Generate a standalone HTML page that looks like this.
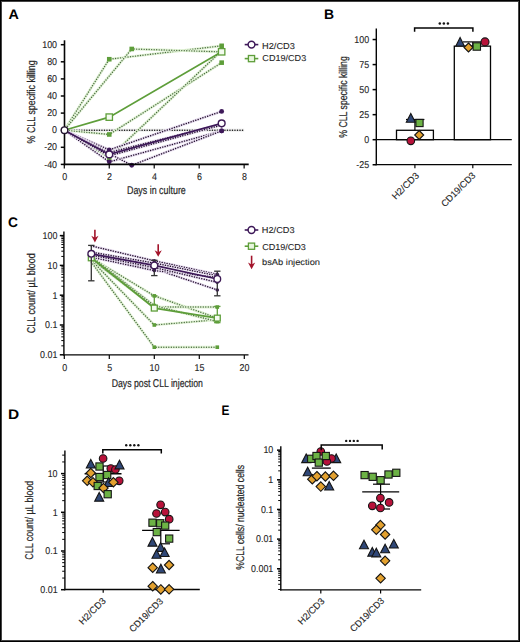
<!DOCTYPE html>
<html><head><meta charset="utf-8"><style>
html,body{margin:0;padding:0;background:#fff;}
body{width:520px;height:642px;overflow:hidden;}
.wrap{position:relative;width:520px;height:642px;box-sizing:border-box;background:#fff;}
.wrap:after{content:"";position:absolute;left:0;top:0;right:0;bottom:0;border:1px solid #000;box-shadow:inset 0 0 0 1px #444;pointer-events:none;}
svg{position:absolute;left:0;top:0;font-family:"Liberation Sans", sans-serif;text-rendering:geometricPrecision;}
</style></head><body><div class="wrap">
<svg width="520" height="642" viewBox="0 0 520 642">
<text transform="translate(8.8,18.6) scale(1.0383,1)" x="-0.35" y="0" font-size="13.8" fill="#000" font-weight="bold" >A</text>
<text transform="translate(324.9,18.6) scale(1.0097,1)" x="-0.9" y="0" font-size="13.8" fill="#000" font-weight="bold" >B</text>
<text transform="translate(8.6,226.5) scale(0.9957,1)" x="-0.55" y="0" font-size="13.8" fill="#000" font-weight="bold" >C</text>
<text transform="translate(8.9,419.2) scale(1.1194,1)" x="-0.9" y="0" font-size="13.8" fill="#000" font-weight="bold" >D</text>
<text transform="translate(222.3,414.6) scale(0.8593,1)" x="-0.9" y="0" font-size="13.8" fill="#000" font-weight="bold" >E</text>
<polyline points="64.3,130.2 244.14,130.2" fill="none" stroke="#e6e6e6" stroke-width="2.7" stroke-linejoin="round"/>
<polyline points="64.3,130.2 244.14,130.2" fill="none" stroke="#111111" stroke-width="1.5" stroke-dasharray="0.01,2.5" stroke-linecap="round" stroke-linejoin="round"/>
<polyline points="64.3,130.2 109.26,59.23 221.66,45.81" fill="none" stroke="#e0f2d4" stroke-width="2.7" stroke-linejoin="round"/>
<polyline points="64.3,130.2 109.26,59.23 221.66,45.81" fill="none" stroke="#4a6a40" stroke-width="1.4" stroke-dasharray="0.01,2.5" stroke-linecap="round" stroke-linejoin="round"/>
<polyline points="64.3,130.2 131.74,48.97 221.66,51.88" fill="none" stroke="#e0f2d4" stroke-width="2.7" stroke-linejoin="round"/>
<polyline points="64.3,130.2 131.74,48.97 221.66,51.88" fill="none" stroke="#4a6a40" stroke-width="1.4" stroke-dasharray="0.01,2.5" stroke-linecap="round" stroke-linejoin="round"/>
<polyline points="64.3,130.2 109.26,134.47 221.66,62.65" fill="none" stroke="#e0f2d4" stroke-width="2.7" stroke-linejoin="round"/>
<polyline points="64.3,130.2 109.26,134.47 221.66,62.65" fill="none" stroke="#4a6a40" stroke-width="1.4" stroke-dasharray="0.01,2.5" stroke-linecap="round" stroke-linejoin="round"/>
<polyline points="64.3,130.2 109.26,157.56 221.66,50.68" fill="none" stroke="#e0f2d4" stroke-width="2.7" stroke-linejoin="round"/>
<polyline points="64.3,130.2 109.26,157.56 221.66,50.68" fill="none" stroke="#4a6a40" stroke-width="1.4" stroke-dasharray="0.01,2.5" stroke-linecap="round" stroke-linejoin="round"/>
<polyline points="64.3,130.2 109.26,149.86 221.66,111.39" fill="none" stroke="#e8def0" stroke-width="2.7" stroke-linejoin="round"/>
<polyline points="64.3,130.2 109.26,149.86 221.66,111.39" fill="none" stroke="#24122e" stroke-width="1.5" stroke-dasharray="0.01,2.5" stroke-linecap="round" stroke-linejoin="round"/>
<polyline points="64.3,130.2 109.26,152.43 221.66,124.21" fill="none" stroke="#e8def0" stroke-width="2.7" stroke-linejoin="round"/>
<polyline points="64.3,130.2 109.26,152.43 221.66,124.21" fill="none" stroke="#24122e" stroke-width="1.5" stroke-dasharray="0.01,2.5" stroke-linecap="round" stroke-linejoin="round"/>
<polyline points="64.3,130.2 109.26,161.83 221.66,130.88" fill="none" stroke="#e8def0" stroke-width="2.7" stroke-linejoin="round"/>
<polyline points="64.3,130.2 109.26,161.83 221.66,130.88" fill="none" stroke="#24122e" stroke-width="1.5" stroke-dasharray="0.01,2.5" stroke-linecap="round" stroke-linejoin="round"/>
<polyline points="64.3,130.2 131.74,165.25 221.66,130.88" fill="none" stroke="#e8def0" stroke-width="2.7" stroke-linejoin="round"/>
<polyline points="64.3,130.2 131.74,165.25 221.66,130.88" fill="none" stroke="#24122e" stroke-width="1.5" stroke-dasharray="0.01,2.5" stroke-linecap="round" stroke-linejoin="round"/>
<polyline points="64.3,130.2 109.26,155.85 221.66,125.07" fill="none" stroke="#e8def0" stroke-width="2.7" stroke-linejoin="round"/>
<polyline points="64.3,130.2 109.26,155.85 221.66,125.07" fill="none" stroke="#24122e" stroke-width="1.5" stroke-dasharray="0.01,2.5" stroke-linecap="round" stroke-linejoin="round"/>
<rect x="106.96" y="56.93" width="4.6" height="4.6" fill="#5e9e3a"/>
<rect x="219.36" y="43.51" width="4.6" height="4.6" fill="#5e9e3a"/>
<rect x="129.44" y="46.67" width="4.6" height="4.6" fill="#5e9e3a"/>
<rect x="219.36" y="49.58" width="4.6" height="4.6" fill="#5e9e3a"/>
<rect x="106.96" y="132.17" width="4.6" height="4.6" fill="#5e9e3a"/>
<rect x="219.36" y="60.35" width="4.6" height="4.6" fill="#5e9e3a"/>
<rect x="106.96" y="155.26" width="4.6" height="4.6" fill="#5e9e3a"/>
<rect x="219.36" y="48.38" width="4.6" height="4.6" fill="#5e9e3a"/>
<circle cx="109.26" cy="149.86" r="2.4" fill="#3e1959"/>
<circle cx="221.66" cy="111.39" r="2.4" fill="#3e1959"/>
<circle cx="109.26" cy="152.43" r="2.4" fill="#3e1959"/>
<circle cx="221.66" cy="124.21" r="2.4" fill="#3e1959"/>
<circle cx="109.26" cy="161.83" r="2.4" fill="#3e1959"/>
<circle cx="221.66" cy="130.88" r="2.4" fill="#3e1959"/>
<circle cx="131.74" cy="165.25" r="2.4" fill="#3e1959"/>
<circle cx="221.66" cy="130.88" r="2.4" fill="#3e1959"/>
<circle cx="109.26" cy="155.85" r="2.4" fill="#3e1959"/>
<circle cx="221.66" cy="125.07" r="2.4" fill="#3e1959"/>
<polyline points="64.3,130.2 109.26,117.12 221.66,51.8" fill="none" stroke="#5e9e3a" stroke-width="1.65" />
<polyline points="64.3,130.2 109.26,154.4 221.66,123.36" fill="none" stroke="#3e1959" stroke-width="1.7" />
<rect x="106.06" y="113.92" width="6.4" height="6.4" fill="#f4fbef" stroke="#5e9e3a" stroke-width="1.3"/>
<rect x="218.46" y="48.6" width="6.4" height="6.4" fill="#f4fbef" stroke="#5e9e3a" stroke-width="1.3"/>
<circle cx="109.26" cy="154.4" r="3.4" fill="#fff" stroke="#3d1a55" stroke-width="1.4"/>
<circle cx="221.66" cy="123.36" r="3.4" fill="#fff" stroke="#3d1a55" stroke-width="1.4"/>
<line x1="64.5" y1="40.3" x2="64.5" y2="165.2" stroke="#050505" stroke-width="1.6" />
<line x1="63.8" y1="164.4" x2="248.7" y2="164.4" stroke="#050505" stroke-width="1.6" />
<line x1="60.8" y1="164.4" x2="64.5" y2="164.4" stroke="#050505" stroke-width="1.5" />
<text transform="translate(56.7,167.5) scale(0.9000,1)" x="-13.91" y="0" font-size="9.9" fill="#262626" stroke="#262626" stroke-width="0.12" >-40</text>
<line x1="60.8" y1="147.3" x2="64.5" y2="147.3" stroke="#050505" stroke-width="1.5" />
<text transform="translate(56.7,150.4) scale(0.9000,1)" x="-13.91" y="0" font-size="9.9" fill="#262626" stroke="#262626" stroke-width="0.12" >-20</text>
<line x1="60.8" y1="130.2" x2="64.5" y2="130.2" stroke="#050505" stroke-width="1.5" />
<text transform="translate(56.7,133.3) scale(0.9000,1)" x="-5.1" y="0" font-size="9.9" fill="#262626" stroke="#262626" stroke-width="0.12" >0</text>
<line x1="60.8" y1="113.1" x2="64.5" y2="113.1" stroke="#050505" stroke-width="1.5" />
<text transform="translate(56.7,116.2) scale(0.9000,1)" x="-10.59" y="0" font-size="9.9" fill="#262626" stroke="#262626" stroke-width="0.12" >20</text>
<line x1="60.8" y1="96" x2="64.5" y2="96" stroke="#050505" stroke-width="1.5" />
<text transform="translate(56.7,99.1) scale(0.9000,1)" x="-10.59" y="0" font-size="9.9" fill="#262626" stroke="#262626" stroke-width="0.12" >40</text>
<line x1="60.8" y1="78.9" x2="64.5" y2="78.9" stroke="#050505" stroke-width="1.5" />
<text transform="translate(56.7,82) scale(0.9000,1)" x="-10.59" y="0" font-size="9.9" fill="#262626" stroke="#262626" stroke-width="0.12" >60</text>
<line x1="60.8" y1="61.8" x2="64.5" y2="61.8" stroke="#050505" stroke-width="1.5" />
<text transform="translate(56.7,64.9) scale(0.9000,1)" x="-10.59" y="0" font-size="9.9" fill="#262626" stroke="#262626" stroke-width="0.12" >80</text>
<line x1="60.8" y1="44.7" x2="64.5" y2="44.7" stroke="#050505" stroke-width="1.5" />
<text transform="translate(56.7,47.8) scale(0.9000,1)" x="-16.09" y="0" font-size="9.9" fill="#262626" stroke="#262626" stroke-width="0.12" >100</text>
<line x1="64.3" y1="164.4" x2="64.3" y2="168.4" stroke="#050505" stroke-width="1.2" />
<text transform="translate(64.6,180) scale(0.9000,1)" x="-2.75" y="0" font-size="9.9" fill="#262626" stroke="#262626" stroke-width="0.12" >0</text>
<line x1="109.26" y1="164.4" x2="109.26" y2="168.4" stroke="#050505" stroke-width="1.2" />
<text transform="translate(109.56,180) scale(0.9000,1)" x="-2.75" y="0" font-size="9.9" fill="#262626" stroke="#262626" stroke-width="0.12" >2</text>
<line x1="154.22" y1="164.4" x2="154.22" y2="168.4" stroke="#050505" stroke-width="1.2" />
<text transform="translate(154.52,180) scale(0.9000,1)" x="-2.72" y="0" font-size="9.9" fill="#262626" stroke="#262626" stroke-width="0.12" >4</text>
<line x1="199.18" y1="164.4" x2="199.18" y2="168.4" stroke="#050505" stroke-width="1.2" />
<text transform="translate(199.48,180) scale(0.9000,1)" x="-2.77" y="0" font-size="9.9" fill="#262626" stroke="#262626" stroke-width="0.12" >6</text>
<line x1="244.14" y1="164.4" x2="244.14" y2="168.4" stroke="#050505" stroke-width="1.2" />
<text transform="translate(244.44,180) scale(0.9000,1)" x="-2.77" y="0" font-size="9.9" fill="#262626" stroke="#262626" stroke-width="0.12" >8</text>
<circle cx="64.5" cy="130.2" r="3.3" fill="#fff" stroke="#231530" stroke-width="1.4"/>
<text transform="translate(127.7,194.2) scale(0.7868,1)" x="-0.9" y="0" font-size="11.3" fill="#262626" stroke="#262626" stroke-width="0.2" >Days in culture</text>
<text transform="translate(34.8,143.1) rotate(-90) scale(0.7860,1)" x="-0.4" y="0" font-size="11.3" fill="#262626" stroke="#262626" stroke-width="0.2" >% CLL specific killing</text>
<line x1="244.7" y1="44.6" x2="258.3" y2="44.6" stroke="#3e1959" stroke-width="1.6" />
<circle cx="251.5" cy="44.6" r="3.4" fill="#fff" stroke="#3e1959" stroke-width="1.5"/>
<text transform="translate(262.8,48.5) scale(1.0746,1)" x="-0.69" y="0" font-size="8.6" fill="#262626" stroke="#262626" stroke-width="0.1" >H2/CD3</text>
<line x1="244.7" y1="58.6" x2="258.3" y2="58.6" stroke="#5e9e3a" stroke-width="1.6" />
<rect x="248.4" y="55.5" width="6.2" height="6.2" fill="#e8f6de" stroke="#5e9e3a" stroke-width="1.3"/>
<text transform="translate(262.8,61) scale(1.0549,1)" x="-0.43" y="0" font-size="8.6" fill="#262626" stroke="#262626" stroke-width="0.1" >CD19/CD3</text>
<rect x="396.5" y="130.28" width="36.9" height="9.42" fill="#fff" stroke="#050505" stroke-width="1.3"/>
<rect x="454.3" y="46.15" width="36.2" height="93.55" fill="#fff" stroke="#050505" stroke-width="1.3"/>
<line x1="376.3" y1="139.7" x2="511.8" y2="139.7" stroke="#050505" stroke-width="1.3" />
<line x1="376.3" y1="28.6" x2="376.3" y2="165.3" stroke="#050505" stroke-width="1.4" />
<line x1="375.6" y1="164.6" x2="511.8" y2="164.6" stroke="#050505" stroke-width="1.4" />
<line x1="372.6" y1="39.54" x2="376.3" y2="39.54" stroke="#050505" stroke-width="1.5" />
<text transform="translate(368.8,42.84) scale(0.9000,1)" x="-16.09" y="0" font-size="9.9" fill="#262626" stroke="#262626" stroke-width="0.12" >100</text>
<line x1="372.6" y1="64.58" x2="376.3" y2="64.58" stroke="#050505" stroke-width="1.5" />
<text transform="translate(368.8,67.88) scale(0.9000,1)" x="-10.59" y="0" font-size="9.9" fill="#262626" stroke="#262626" stroke-width="0.12" >75</text>
<line x1="372.6" y1="89.62" x2="376.3" y2="89.62" stroke="#050505" stroke-width="1.5" />
<text transform="translate(368.8,92.92) scale(0.9000,1)" x="-10.59" y="0" font-size="9.9" fill="#262626" stroke="#262626" stroke-width="0.12" >50</text>
<line x1="372.6" y1="114.66" x2="376.3" y2="114.66" stroke="#050505" stroke-width="1.5" />
<text transform="translate(368.8,117.96) scale(0.9000,1)" x="-10.59" y="0" font-size="9.9" fill="#262626" stroke="#262626" stroke-width="0.12" >25</text>
<line x1="372.6" y1="139.7" x2="376.3" y2="139.7" stroke="#050505" stroke-width="1.5" />
<text transform="translate(368.8,143) scale(0.9000,1)" x="-5.1" y="0" font-size="9.9" fill="#262626" stroke="#262626" stroke-width="0.12" >0</text>
<line x1="372.6" y1="164.74" x2="376.3" y2="164.74" stroke="#050505" stroke-width="1.5" />
<text transform="translate(368.8,168.04) scale(0.9000,1)" x="-13.91" y="0" font-size="9.9" fill="#262626" stroke="#262626" stroke-width="0.12" >-25</text>
<line x1="414.9" y1="164.6" x2="414.9" y2="168.2" stroke="#050505" stroke-width="1.2" />
<line x1="472.8" y1="164.6" x2="472.8" y2="168.2" stroke="#050505" stroke-width="1.2" />
<line x1="414.9" y1="130.28" x2="414.9" y2="119.5" stroke="#050505" stroke-width="1.2" />
<line x1="406" y1="119.5" x2="424.4" y2="119.5" stroke="#050505" stroke-width="1.2" />
<line x1="472.8" y1="46.2" x2="472.8" y2="41.9" stroke="#050505" stroke-width="1.2" />
<line x1="463" y1="41.9" x2="482" y2="41.9" stroke="#050505" stroke-width="1.2" />
<polygon points="410.8,113.52 415.3,122.32 406.3,122.32" fill="#2f4777" stroke="#141414" stroke-width="1.1" stroke-linejoin="miter"/>
<rect x="415.9" y="119.4" width="7.2" height="7.2" fill="#6cb245" stroke="#141414" stroke-width="1.1"/>
<polygon points="419.2,130.5 423.7,135 419.2,139.5 414.7,135" fill="#e3a12f" stroke="#141414" stroke-width="1.1"/>
<circle cx="410.8" cy="140.8" r="3.8" fill="#b8123a" stroke="#141414" stroke-width="1.1"/>
<polygon points="460.1,37.56 464.3,45.96 455.9,45.96" fill="#2f4777" stroke="#141414" stroke-width="1.1" stroke-linejoin="miter"/>
<polygon points="468.5,43 473,47.5 468.5,52 464,47.5" fill="#e3a12f" stroke="#141414" stroke-width="1.1"/>
<rect x="473.1" y="42.8" width="7.4" height="7.4" fill="#6cb245" stroke="#141414" stroke-width="1.1"/>
<circle cx="485" cy="41.9" r="4" fill="#b8123a" stroke="#141414" stroke-width="1.1"/>
<polyline points="414.6,31.8 414.6,28.1 472.9,28.1 472.9,31.8" fill="none" stroke="#050505" stroke-width="1.5" />
<circle cx="439.8" cy="23.4" r="1.25" fill="#151515"/>
<circle cx="443.85" cy="23.4" r="1.25" fill="#151515"/>
<circle cx="447.9" cy="23.4" r="1.25" fill="#151515"/>
<text transform="translate(346.8,137.4) rotate(-90) scale(0.7707,1)" x="-0.4" y="0" font-size="11.3" fill="#262626" stroke="#262626" stroke-width="0.2" >% CLL specific killing</text>
<text transform="translate(419.4,176.4) rotate(-45) scale(1.0142,1)" x="-32.99" y="0" font-size="9.4" fill="#262626" stroke="#262626" stroke-width="0.12" >H2/CD3</text>
<text transform="translate(476,176.3) rotate(-45) scale(0.9763,1)" x="-45.03" y="0" font-size="9.4" fill="#262626" stroke="#262626" stroke-width="0.12" >CD19/CD3</text>
<polyline points="91.3,257.79 154.3,295.86 217.3,318.13" fill="none" stroke="#e0f2d4" stroke-width="2.7" stroke-linejoin="round"/>
<polyline points="91.3,257.79 154.3,295.86 217.3,318.13" fill="none" stroke="#4a6a40" stroke-width="1.4" stroke-dasharray="0.01,2.5" stroke-linecap="round" stroke-linejoin="round"/>
<polyline points="91.3,259.32 154.3,307.06 217.3,307.06" fill="none" stroke="#e0f2d4" stroke-width="2.7" stroke-linejoin="round"/>
<polyline points="91.3,259.32 154.3,307.06 217.3,307.06" fill="none" stroke="#4a6a40" stroke-width="1.4" stroke-dasharray="0.01,2.5" stroke-linecap="round" stroke-linejoin="round"/>
<polyline points="91.3,260.15 154.3,325 217.3,319.75" fill="none" stroke="#e0f2d4" stroke-width="2.7" stroke-linejoin="round"/>
<polyline points="91.3,260.15 154.3,325 217.3,319.75" fill="none" stroke="#4a6a40" stroke-width="1.4" stroke-dasharray="0.01,2.5" stroke-linecap="round" stroke-linejoin="round"/>
<polyline points="91.3,262 154.3,347.19 217.3,347.19" fill="none" stroke="#e0f2d4" stroke-width="2.7" stroke-linejoin="round"/>
<polyline points="91.3,262 154.3,347.19 217.3,347.19" fill="none" stroke="#4a6a40" stroke-width="1.4" stroke-dasharray="0.01,2.5" stroke-linecap="round" stroke-linejoin="round"/>
<polyline points="91.3,256.43 154.3,305.53 217.3,321.6" fill="none" stroke="#e0f2d4" stroke-width="2.7" stroke-linejoin="round"/>
<polyline points="91.3,256.43 154.3,305.53 217.3,321.6" fill="none" stroke="#4a6a40" stroke-width="1.4" stroke-dasharray="0.01,2.5" stroke-linecap="round" stroke-linejoin="round"/>
<rect x="152.5" y="294.06" width="3.6" height="3.6" fill="#5e9e3a"/>
<rect x="215.5" y="316.33" width="3.6" height="3.6" fill="#5e9e3a"/>
<rect x="152.5" y="305.26" width="3.6" height="3.6" fill="#5e9e3a"/>
<rect x="215.5" y="305.26" width="3.6" height="3.6" fill="#5e9e3a"/>
<rect x="152.5" y="323.2" width="3.6" height="3.6" fill="#5e9e3a"/>
<rect x="215.5" y="317.95" width="3.6" height="3.6" fill="#5e9e3a"/>
<rect x="152.5" y="345.39" width="3.6" height="3.6" fill="#5e9e3a"/>
<rect x="215.5" y="345.39" width="3.6" height="3.6" fill="#5e9e3a"/>
<rect x="152.5" y="303.73" width="3.6" height="3.6" fill="#5e9e3a"/>
<rect x="215.5" y="319.8" width="3.6" height="3.6" fill="#5e9e3a"/>
<polyline points="91.3,245.93 154.3,260.77 217.3,274.37" fill="none" stroke="#e8def0" stroke-width="2.7" stroke-linejoin="round"/>
<polyline points="91.3,245.93 154.3,260.77 217.3,274.37" fill="none" stroke="#24122e" stroke-width="1.5" stroke-dasharray="0.01,2.5" stroke-linecap="round" stroke-linejoin="round"/>
<polyline points="91.3,252.07 154.3,263.04 217.3,275.73" fill="none" stroke="#e8def0" stroke-width="2.7" stroke-linejoin="round"/>
<polyline points="91.3,252.07 154.3,263.04 217.3,275.73" fill="none" stroke="#24122e" stroke-width="1.5" stroke-dasharray="0.01,2.5" stroke-linecap="round" stroke-linejoin="round"/>
<polyline points="91.3,256.43 154.3,268.78 217.3,289.95" fill="none" stroke="#e8def0" stroke-width="2.7" stroke-linejoin="round"/>
<polyline points="91.3,256.43 154.3,268.78 217.3,289.95" fill="none" stroke="#24122e" stroke-width="1.5" stroke-dasharray="0.01,2.5" stroke-linecap="round" stroke-linejoin="round"/>
<polyline points="91.3,257.09 154.3,270.58 217.3,277.26" fill="none" stroke="#e8def0" stroke-width="2.7" stroke-linejoin="round"/>
<polyline points="91.3,257.09 154.3,270.58 217.3,277.26" fill="none" stroke="#24122e" stroke-width="1.5" stroke-dasharray="0.01,2.5" stroke-linecap="round" stroke-linejoin="round"/>
<polyline points="91.3,255.2 154.3,267.5 217.3,282.35" fill="none" stroke="#e8def0" stroke-width="2.7" stroke-linejoin="round"/>
<polyline points="91.3,255.2 154.3,267.5 217.3,282.35" fill="none" stroke="#24122e" stroke-width="1.5" stroke-dasharray="0.01,2.5" stroke-linecap="round" stroke-linejoin="round"/>
<circle cx="154.3" cy="260.77" r="1.8" fill="#3e1959"/>
<circle cx="217.3" cy="274.37" r="1.8" fill="#3e1959"/>
<circle cx="154.3" cy="263.04" r="1.8" fill="#3e1959"/>
<circle cx="217.3" cy="275.73" r="1.8" fill="#3e1959"/>
<circle cx="154.3" cy="268.78" r="1.8" fill="#3e1959"/>
<circle cx="217.3" cy="289.95" r="1.8" fill="#3e1959"/>
<circle cx="154.3" cy="270.58" r="1.8" fill="#3e1959"/>
<circle cx="217.3" cy="277.26" r="1.8" fill="#3e1959"/>
<circle cx="154.3" cy="267.5" r="1.8" fill="#3e1959"/>
<circle cx="217.3" cy="282.35" r="1.8" fill="#3e1959"/>
<line x1="154.3" y1="295.86" x2="154.3" y2="308.07" stroke="#5e9e3a" stroke-width="1.3" />
<line x1="151.1" y1="295.86" x2="157.5" y2="295.86" stroke="#5e9e3a" stroke-width="1.3" />
<line x1="151.1" y1="308.07" x2="157.5" y2="308.07" stroke="#5e9e3a" stroke-width="1.3" />
<line x1="217.3" y1="306.43" x2="217.3" y2="322.64" stroke="#5e9e3a" stroke-width="1.3" />
<line x1="214.1" y1="306.43" x2="220.5" y2="306.43" stroke="#5e9e3a" stroke-width="1.3" />
<line x1="214.1" y1="322.64" x2="220.5" y2="322.64" stroke="#5e9e3a" stroke-width="1.3" />
<polyline points="91.3,257.79 154.3,308.07 217.3,318.13" fill="none" stroke="#5e9e3a" stroke-width="1.8" />
<rect x="88.35" y="254.84" width="5.9" height="5.9" fill="#f4fbef" stroke="#5e9e3a" stroke-width="1.3"/>
<rect x="151.35" y="305.12" width="5.9" height="5.9" fill="#f4fbef" stroke="#5e9e3a" stroke-width="1.3"/>
<rect x="214.35" y="315.18" width="5.9" height="5.9" fill="#f4fbef" stroke="#5e9e3a" stroke-width="1.3"/>
<line x1="91.3" y1="245.4" x2="91.3" y2="280.8" stroke="#333" stroke-width="1.3" />
<line x1="88.1" y1="245.4" x2="94.5" y2="245.4" stroke="#333" stroke-width="1.3" />
<line x1="88.1" y1="280.8" x2="94.5" y2="280.8" stroke="#333" stroke-width="1.3" />
<line x1="154.3" y1="260.3" x2="154.3" y2="275.6" stroke="#333" stroke-width="1.3" />
<line x1="151.1" y1="260.3" x2="157.5" y2="260.3" stroke="#333" stroke-width="1.3" />
<line x1="151.1" y1="275.6" x2="157.5" y2="275.6" stroke="#333" stroke-width="1.3" />
<line x1="217.3" y1="271.2" x2="217.3" y2="295.8" stroke="#333" stroke-width="1.3" />
<line x1="214.1" y1="271.2" x2="220.5" y2="271.2" stroke="#333" stroke-width="1.3" />
<line x1="214.1" y1="295.8" x2="220.5" y2="295.8" stroke="#333" stroke-width="1.3" />
<polyline points="91.3,253.8 154.3,265.4 217.3,278.99" fill="none" stroke="#3e1959" stroke-width="1.75" />
<circle cx="91.3" cy="253.8" r="3.35" fill="#fff" stroke="#3d1a55" stroke-width="1.35"/>
<circle cx="154.3" cy="265.4" r="3.35" fill="#fff" stroke="#3d1a55" stroke-width="1.35"/>
<circle cx="217.3" cy="278.99" r="3.35" fill="#fff" stroke="#3d1a55" stroke-width="1.35"/>
<line x1="94.9" y1="229.8" x2="94.9" y2="239.4" stroke="#a3142b" stroke-width="1.6" />
<polygon points="91.3,235.8 94.9,242.4 98.5,235.8 94.9,237.8" fill="#a3142b"/>
<line x1="158.2" y1="244.2" x2="158.2" y2="253.8" stroke="#a3142b" stroke-width="1.6" />
<polygon points="154.6,250.2 158.2,256.8 161.8,250.2 158.2,252.2" fill="#a3142b"/>
<line x1="63.9" y1="231.6" x2="63.9" y2="355.6" stroke="#050505" stroke-width="1.4" />
<line x1="63.2" y1="354.9" x2="248.5" y2="354.9" stroke="#050505" stroke-width="1.4" />
<line x1="59.8" y1="235.6" x2="63.9" y2="235.6" stroke="#050505" stroke-width="1.5" />
<text transform="translate(57,238.9) scale(0.9000,1)" x="-16.09" y="0" font-size="9.9" fill="#262626" stroke="#262626" stroke-width="0.12" >100</text>
<line x1="59.8" y1="265.4" x2="63.9" y2="265.4" stroke="#050505" stroke-width="1.5" />
<text transform="translate(57,268.7) scale(0.9000,1)" x="-10.59" y="0" font-size="9.9" fill="#262626" stroke="#262626" stroke-width="0.12" >10</text>
<line x1="59.8" y1="295.2" x2="63.9" y2="295.2" stroke="#050505" stroke-width="1.5" />
<text transform="translate(57,298.5) scale(0.9000,1)" x="-5.05" y="0" font-size="9.9" fill="#262626" stroke="#262626" stroke-width="0.12" >1</text>
<line x1="59.8" y1="325" x2="63.9" y2="325" stroke="#050505" stroke-width="1.5" />
<text transform="translate(57,328.3) scale(0.9000,1)" x="-13.32" y="0" font-size="9.9" fill="#262626" stroke="#262626" stroke-width="0.12" >0.1</text>
<line x1="59.8" y1="354.8" x2="63.9" y2="354.8" stroke="#050505" stroke-width="1.5" />
<text transform="translate(57,358.1) scale(0.9000,1)" x="-18.81" y="0" font-size="9.9" fill="#262626" stroke="#262626" stroke-width="0.12" >0.01</text>
<line x1="61.3" y1="345.83" x2="63.9" y2="345.83" stroke="#050505" stroke-width="1.0" />
<line x1="61.3" y1="340.58" x2="63.9" y2="340.58" stroke="#050505" stroke-width="1.0" />
<line x1="61.3" y1="336.86" x2="63.9" y2="336.86" stroke="#050505" stroke-width="1.0" />
<line x1="61.3" y1="333.97" x2="63.9" y2="333.97" stroke="#050505" stroke-width="1.0" />
<line x1="61.3" y1="331.61" x2="63.9" y2="331.61" stroke="#050505" stroke-width="1.0" />
<line x1="61.3" y1="329.62" x2="63.9" y2="329.62" stroke="#050505" stroke-width="1.0" />
<line x1="61.3" y1="327.89" x2="63.9" y2="327.89" stroke="#050505" stroke-width="1.0" />
<line x1="61.3" y1="326.36" x2="63.9" y2="326.36" stroke="#050505" stroke-width="1.0" />
<line x1="61.3" y1="316.03" x2="63.9" y2="316.03" stroke="#050505" stroke-width="1.0" />
<line x1="61.3" y1="310.78" x2="63.9" y2="310.78" stroke="#050505" stroke-width="1.0" />
<line x1="61.3" y1="307.06" x2="63.9" y2="307.06" stroke="#050505" stroke-width="1.0" />
<line x1="61.3" y1="304.17" x2="63.9" y2="304.17" stroke="#050505" stroke-width="1.0" />
<line x1="61.3" y1="301.81" x2="63.9" y2="301.81" stroke="#050505" stroke-width="1.0" />
<line x1="61.3" y1="299.82" x2="63.9" y2="299.82" stroke="#050505" stroke-width="1.0" />
<line x1="61.3" y1="298.09" x2="63.9" y2="298.09" stroke="#050505" stroke-width="1.0" />
<line x1="61.3" y1="296.56" x2="63.9" y2="296.56" stroke="#050505" stroke-width="1.0" />
<line x1="61.3" y1="286.23" x2="63.9" y2="286.23" stroke="#050505" stroke-width="1.0" />
<line x1="61.3" y1="280.98" x2="63.9" y2="280.98" stroke="#050505" stroke-width="1.0" />
<line x1="61.3" y1="277.26" x2="63.9" y2="277.26" stroke="#050505" stroke-width="1.0" />
<line x1="61.3" y1="274.37" x2="63.9" y2="274.37" stroke="#050505" stroke-width="1.0" />
<line x1="61.3" y1="272.01" x2="63.9" y2="272.01" stroke="#050505" stroke-width="1.0" />
<line x1="61.3" y1="270.02" x2="63.9" y2="270.02" stroke="#050505" stroke-width="1.0" />
<line x1="61.3" y1="268.29" x2="63.9" y2="268.29" stroke="#050505" stroke-width="1.0" />
<line x1="61.3" y1="266.76" x2="63.9" y2="266.76" stroke="#050505" stroke-width="1.0" />
<line x1="61.3" y1="256.43" x2="63.9" y2="256.43" stroke="#050505" stroke-width="1.0" />
<line x1="61.3" y1="251.18" x2="63.9" y2="251.18" stroke="#050505" stroke-width="1.0" />
<line x1="61.3" y1="247.46" x2="63.9" y2="247.46" stroke="#050505" stroke-width="1.0" />
<line x1="61.3" y1="244.57" x2="63.9" y2="244.57" stroke="#050505" stroke-width="1.0" />
<line x1="61.3" y1="242.21" x2="63.9" y2="242.21" stroke="#050505" stroke-width="1.0" />
<line x1="61.3" y1="240.22" x2="63.9" y2="240.22" stroke="#050505" stroke-width="1.0" />
<line x1="61.3" y1="238.49" x2="63.9" y2="238.49" stroke="#050505" stroke-width="1.0" />
<line x1="61.3" y1="236.96" x2="63.9" y2="236.96" stroke="#050505" stroke-width="1.0" />
<line x1="64.3" y1="354.9" x2="64.3" y2="359" stroke="#050505" stroke-width="1.2" />
<text transform="translate(64.6,371.2) scale(0.9000,1)" x="-2.75" y="0" font-size="9.9" fill="#262626" stroke="#262626" stroke-width="0.12" >0</text>
<line x1="109.3" y1="354.9" x2="109.3" y2="359" stroke="#050505" stroke-width="1.2" />
<text transform="translate(109.6,371.2) scale(0.9000,1)" x="-2.75" y="0" font-size="9.9" fill="#262626" stroke="#262626" stroke-width="0.12" >5</text>
<line x1="154.3" y1="354.9" x2="154.3" y2="359" stroke="#050505" stroke-width="1.2" />
<text transform="translate(154.6,371.2) scale(0.9000,1)" x="-5.67" y="0" font-size="9.9" fill="#262626" stroke="#262626" stroke-width="0.12" >10</text>
<line x1="199.3" y1="354.9" x2="199.3" y2="359" stroke="#050505" stroke-width="1.2" />
<text transform="translate(199.6,371.2) scale(0.9000,1)" x="-5.67" y="0" font-size="9.9" fill="#262626" stroke="#262626" stroke-width="0.12" >15</text>
<line x1="244.3" y1="354.9" x2="244.3" y2="359" stroke="#050505" stroke-width="1.2" />
<text transform="translate(244.6,371.2) scale(0.9000,1)" x="-5.54" y="0" font-size="9.9" fill="#262626" stroke="#262626" stroke-width="0.12" >20</text>
<text transform="translate(112.4,387.2) scale(0.7709,1)" x="-0.9" y="0" font-size="11.3" fill="#262626" stroke="#262626" stroke-width="0.2" >Days post CLL injection</text>
<text transform="translate(35,332.7) rotate(-90) scale(0.7953,1)" x="-0.57" y="0" font-size="11.3" fill="#262626" stroke="#262626" stroke-width="0.2" >CLL count/ µL blood</text>
<line x1="244.7" y1="230" x2="258.3" y2="230" stroke="#3e1959" stroke-width="1.6" />
<circle cx="251.5" cy="230" r="3.4" fill="#fff" stroke="#3e1959" stroke-width="1.5"/>
<text transform="translate(262.6,233.1) scale(1.0679,1)" x="-0.69" y="0" font-size="8.6" fill="#262626" stroke="#262626" stroke-width="0.1" >H2/CD3</text>
<line x1="244.7" y1="246.2" x2="258.3" y2="246.2" stroke="#5e9e3a" stroke-width="1.6" />
<rect x="248.4" y="243.1" width="6.2" height="6.2" fill="#e8f6de" stroke="#5e9e3a" stroke-width="1.3"/>
<text transform="translate(262.6,249.5) scale(1.0524,1)" x="-0.43" y="0" font-size="8.6" fill="#262626" stroke="#262626" stroke-width="0.1" >CD19/CD3</text>
<line x1="251.6" y1="255.7" x2="251.6" y2="266.2" stroke="#a3142b" stroke-width="1.6" />
<polygon points="248,262.6 251.6,269.2 255.2,262.6 251.6,264.6" fill="#a3142b"/>
<text transform="translate(262.6,265.4) scale(1.0836,1)" x="-0.56" y="0" font-size="8.6" fill="#262626" stroke="#262626" stroke-width="0.1" >bsAb injection</text>
<line x1="103.2" y1="466" x2="103.2" y2="482" stroke="#050505" stroke-width="1.2" />
<line x1="97.2" y1="466" x2="109.2" y2="466" stroke="#050505" stroke-width="1.2" />
<line x1="97.2" y1="482" x2="109.2" y2="482" stroke="#050505" stroke-width="1.2" />
<line x1="160.8" y1="530.4" x2="160.8" y2="543.8" stroke="#050505" stroke-width="1.2" />
<line x1="160.8" y1="543.8" x2="170" y2="543.8" stroke="#050505" stroke-width="1.2" />
<line x1="64.9" y1="450.6" x2="64.9" y2="590.2" stroke="#050505" stroke-width="1.4" />
<line x1="64.2" y1="589.5" x2="199.8" y2="589.5" stroke="#050505" stroke-width="1.4" />
<line x1="61" y1="473.6" x2="64.9" y2="473.6" stroke="#050505" stroke-width="1.5" />
<text transform="translate(57.2,476.9) scale(0.9000,1)" x="-10.59" y="0" font-size="9.9" fill="#262626" stroke="#262626" stroke-width="0.12" >10</text>
<line x1="61" y1="512.3" x2="64.9" y2="512.3" stroke="#050505" stroke-width="1.5" />
<text transform="translate(57.2,515.6) scale(0.9000,1)" x="-5.05" y="0" font-size="9.9" fill="#262626" stroke="#262626" stroke-width="0.12" >1</text>
<line x1="61" y1="551" x2="64.9" y2="551" stroke="#050505" stroke-width="1.5" />
<text transform="translate(57.2,554.3) scale(0.9000,1)" x="-13.32" y="0" font-size="9.9" fill="#262626" stroke="#262626" stroke-width="0.12" >0.1</text>
<line x1="61" y1="589.7" x2="64.9" y2="589.7" stroke="#050505" stroke-width="1.5" />
<text transform="translate(57.2,593) scale(0.9000,1)" x="-18.81" y="0" font-size="9.9" fill="#262626" stroke="#262626" stroke-width="0.12" >0.01</text>
<line x1="62.2" y1="578.05" x2="64.9" y2="578.05" stroke="#050505" stroke-width="1.0" />
<line x1="62.2" y1="571.24" x2="64.9" y2="571.24" stroke="#050505" stroke-width="1.0" />
<line x1="62.2" y1="566.4" x2="64.9" y2="566.4" stroke="#050505" stroke-width="1.0" />
<line x1="62.2" y1="562.65" x2="64.9" y2="562.65" stroke="#050505" stroke-width="1.0" />
<line x1="62.2" y1="559.59" x2="64.9" y2="559.59" stroke="#050505" stroke-width="1.0" />
<line x1="62.2" y1="556.99" x2="64.9" y2="556.99" stroke="#050505" stroke-width="1.0" />
<line x1="62.2" y1="554.75" x2="64.9" y2="554.75" stroke="#050505" stroke-width="1.0" />
<line x1="62.2" y1="552.77" x2="64.9" y2="552.77" stroke="#050505" stroke-width="1.0" />
<line x1="62.2" y1="539.35" x2="64.9" y2="539.35" stroke="#050505" stroke-width="1.0" />
<line x1="62.2" y1="532.54" x2="64.9" y2="532.54" stroke="#050505" stroke-width="1.0" />
<line x1="62.2" y1="527.7" x2="64.9" y2="527.7" stroke="#050505" stroke-width="1.0" />
<line x1="62.2" y1="523.95" x2="64.9" y2="523.95" stroke="#050505" stroke-width="1.0" />
<line x1="62.2" y1="520.89" x2="64.9" y2="520.89" stroke="#050505" stroke-width="1.0" />
<line x1="62.2" y1="518.29" x2="64.9" y2="518.29" stroke="#050505" stroke-width="1.0" />
<line x1="62.2" y1="516.05" x2="64.9" y2="516.05" stroke="#050505" stroke-width="1.0" />
<line x1="62.2" y1="514.07" x2="64.9" y2="514.07" stroke="#050505" stroke-width="1.0" />
<line x1="62.2" y1="500.65" x2="64.9" y2="500.65" stroke="#050505" stroke-width="1.0" />
<line x1="62.2" y1="493.84" x2="64.9" y2="493.84" stroke="#050505" stroke-width="1.0" />
<line x1="62.2" y1="489" x2="64.9" y2="489" stroke="#050505" stroke-width="1.0" />
<line x1="62.2" y1="485.25" x2="64.9" y2="485.25" stroke="#050505" stroke-width="1.0" />
<line x1="62.2" y1="482.19" x2="64.9" y2="482.19" stroke="#050505" stroke-width="1.0" />
<line x1="62.2" y1="479.59" x2="64.9" y2="479.59" stroke="#050505" stroke-width="1.0" />
<line x1="62.2" y1="477.35" x2="64.9" y2="477.35" stroke="#050505" stroke-width="1.0" />
<line x1="62.2" y1="475.37" x2="64.9" y2="475.37" stroke="#050505" stroke-width="1.0" />
<line x1="62.2" y1="461.95" x2="64.9" y2="461.95" stroke="#050505" stroke-width="1.0" />
<line x1="62.2" y1="455.14" x2="64.9" y2="455.14" stroke="#050505" stroke-width="1.0" />
<line x1="103.2" y1="589.5" x2="103.2" y2="592.8" stroke="#050505" stroke-width="1.2" />
<line x1="160.8" y1="589.5" x2="160.8" y2="592.8" stroke="#050505" stroke-width="1.2" />
<line x1="84.6" y1="473.8" x2="121.5" y2="473.8" stroke="#050505" stroke-width="1.4" />
<line x1="142.1" y1="530.4" x2="179.6" y2="530.4" stroke="#050505" stroke-width="1.4" />
<polygon points="90.8,459.44 95.3,468.04 86.3,468.04" fill="#2f4777" stroke="#141414" stroke-width="1.1" stroke-linejoin="miter"/>
<rect x="95.9" y="462.9" width="7.2" height="7.2" fill="#6cb245" stroke="#141414" stroke-width="1.1"/>
<circle cx="103.1" cy="458.5" r="3.8" fill="#b8123a" stroke="#141414" stroke-width="1.1"/>
<circle cx="110.8" cy="468.5" r="3.8" fill="#b8123a" stroke="#141414" stroke-width="1.1"/>
<circle cx="115.4" cy="469.5" r="3.8" fill="#b8123a" stroke="#141414" stroke-width="1.1"/>
<polygon points="119.5,460.24 124,468.84 115,468.84" fill="#2f4777" stroke="#141414" stroke-width="1.1" stroke-linejoin="miter"/>
<polygon points="90.8,468.3 95.5,473 90.8,477.7 86.1,473" fill="#e3a12f" stroke="#141414" stroke-width="1.1"/>
<rect x="95.9" y="473.4" width="7.2" height="7.2" fill="#6cb245" stroke="#141414" stroke-width="1.1"/>
<rect x="103.6" y="471.4" width="7.2" height="7.2" fill="#6cb245" stroke="#141414" stroke-width="1.1"/>
<polygon points="87.2,476.1 91.9,480.8 87.2,485.5 82.5,480.8" fill="#e3a12f" stroke="#141414" stroke-width="1.1"/>
<polygon points="93,477.6 97.7,482.3 93,487 88.3,482.3" fill="#e3a12f" stroke="#141414" stroke-width="1.1"/>
<circle cx="119.2" cy="480.8" r="3.8" fill="#b8123a" stroke="#141414" stroke-width="1.1"/>
<polygon points="108.5,477.84 113,486.44 104,486.44" fill="#2f4777" stroke="#141414" stroke-width="1.1" stroke-linejoin="miter"/>
<polygon points="113.4,477.6 118.1,482.3 113.4,487 108.7,482.3" fill="#e3a12f" stroke="#141414" stroke-width="1.1"/>
<rect x="94.1" y="482.4" width="7.2" height="7.2" fill="#6cb245" stroke="#141414" stroke-width="1.1"/>
<polygon points="103.5,483.3 108.2,488 103.5,492.7 98.8,488" fill="#e3a12f" stroke="#141414" stroke-width="1.1"/>
<rect x="104.1" y="490.6" width="7.2" height="7.2" fill="#6cb245" stroke="#141414" stroke-width="1.1"/>
<polygon points="99.2,492.54 103.7,501.14 94.7,501.14" fill="#2f4777" stroke="#141414" stroke-width="1.1" stroke-linejoin="miter"/>
<circle cx="160.6" cy="504.8" r="3.8" fill="#b8123a" stroke="#141414" stroke-width="1.1"/>
<circle cx="156.5" cy="513.5" r="3.8" fill="#b8123a" stroke="#141414" stroke-width="1.1"/>
<circle cx="165.2" cy="512.1" r="3.8" fill="#b8123a" stroke="#141414" stroke-width="1.1"/>
<circle cx="169.2" cy="519.2" r="3.8" fill="#b8123a" stroke="#141414" stroke-width="1.1"/>
<rect x="148.9" y="519.1" width="7.2" height="7.2" fill="#6cb245" stroke="#141414" stroke-width="1.1"/>
<rect x="156.6" y="519.7" width="7.2" height="7.2" fill="#6cb245" stroke="#141414" stroke-width="1.1"/>
<rect x="161.6" y="522" width="7.2" height="7.2" fill="#6cb245" stroke="#141414" stroke-width="1.1"/>
<rect x="153.2" y="528.5" width="7.2" height="7.2" fill="#6cb245" stroke="#141414" stroke-width="1.1"/>
<rect x="165.6" y="535" width="7.2" height="7.2" fill="#6cb245" stroke="#141414" stroke-width="1.1"/>
<polygon points="152.5,537.54 157,546.14 148,546.14" fill="#2f4777" stroke="#141414" stroke-width="1.1" stroke-linejoin="miter"/>
<polygon points="160.6,542.74 165.1,551.34 156.1,551.34" fill="#2f4777" stroke="#141414" stroke-width="1.1" stroke-linejoin="miter"/>
<polygon points="156.5,549.64 161,558.24 152,558.24" fill="#2f4777" stroke="#141414" stroke-width="1.1" stroke-linejoin="miter"/>
<polygon points="164.6,547.94 169.1,556.54 160.1,556.54" fill="#2f4777" stroke="#141414" stroke-width="1.1" stroke-linejoin="miter"/>
<polygon points="152.7,563 157.4,567.7 152.7,572.4 148,567.7" fill="#e3a12f" stroke="#141414" stroke-width="1.1"/>
<polygon points="160.9,564.24 165.4,572.84 156.4,572.84" fill="#2f4777" stroke="#141414" stroke-width="1.1" stroke-linejoin="miter"/>
<polygon points="169.1,560.3 173.8,565 169.1,569.7 164.4,565" fill="#e3a12f" stroke="#141414" stroke-width="1.1"/>
<polygon points="152.7,581.5 157.4,586.2 152.7,590.9 148,586.2" fill="#e3a12f" stroke="#141414" stroke-width="1.1"/>
<polygon points="160.8,584.7 165.5,589.4 160.8,594.1 156.1,589.4" fill="#e3a12f" stroke="#141414" stroke-width="1.1"/>
<polygon points="169.1,584.6 173.8,589.3 169.1,594 164.4,589.3" fill="#e3a12f" stroke="#141414" stroke-width="1.1"/>
<polyline points="102.8,453.4 102.8,449.7 161.3,449.7 161.3,453.4" fill="none" stroke="#050505" stroke-width="1.5" />
<circle cx="126.2" cy="445.3" r="1.2" fill="#151515"/>
<circle cx="130.3" cy="445.3" r="1.2" fill="#151515"/>
<circle cx="134.3" cy="445.3" r="1.2" fill="#151515"/>
<circle cx="138.4" cy="445.3" r="1.2" fill="#151515"/>
<text transform="translate(32.5,559.2) rotate(-90) scale(0.7852,1)" x="-0.57" y="0" font-size="11.3" fill="#262626" stroke="#262626" stroke-width="0.2" >CLL count/ µL blood</text>
<text transform="translate(106.15,601.75) rotate(-45) scale(1.0049,1)" x="-32.99" y="0" font-size="9.4" fill="#262626" stroke="#262626" stroke-width="0.12" >H2/CD3</text>
<text transform="translate(163.55,602.15) rotate(-45) scale(0.9628,1)" x="-45.03" y="0" font-size="9.4" fill="#262626" stroke="#262626" stroke-width="0.12" >CD19/CD3</text>
<line x1="380.6" y1="484.2" x2="380.6" y2="509" stroke="#050505" stroke-width="1.2" />
<line x1="373" y1="484.2" x2="390" y2="484.2" stroke="#050505" stroke-width="1.2" />
<line x1="380.6" y1="509" x2="390" y2="509" stroke="#050505" stroke-width="1.2" />
<line x1="280.8" y1="446.2" x2="280.8" y2="590.6" stroke="#050505" stroke-width="1.4" />
<line x1="280.1" y1="589.9" x2="421.2" y2="589.9" stroke="#050505" stroke-width="1.4" />
<line x1="277" y1="450.15" x2="280.8" y2="450.15" stroke="#050505" stroke-width="1.5" />
<text transform="translate(272.9,453.35) scale(0.9000,1)" x="-10.59" y="0" font-size="9.9" fill="#262626" stroke="#262626" stroke-width="0.12" >10</text>
<line x1="277" y1="479.8" x2="280.8" y2="479.8" stroke="#050505" stroke-width="1.5" />
<text transform="translate(272.9,483) scale(0.9000,1)" x="-5.05" y="0" font-size="9.9" fill="#262626" stroke="#262626" stroke-width="0.12" >1</text>
<line x1="277" y1="509.45" x2="280.8" y2="509.45" stroke="#050505" stroke-width="1.5" />
<text transform="translate(272.9,512.65) scale(0.9000,1)" x="-13.32" y="0" font-size="9.9" fill="#262626" stroke="#262626" stroke-width="0.12" >0.1</text>
<line x1="277" y1="539.1" x2="280.8" y2="539.1" stroke="#050505" stroke-width="1.5" />
<text transform="translate(272.9,542.3) scale(0.9000,1)" x="-18.81" y="0" font-size="9.9" fill="#262626" stroke="#262626" stroke-width="0.12" >0.01</text>
<line x1="277" y1="568.75" x2="280.8" y2="568.75" stroke="#050505" stroke-width="1.5" />
<text transform="translate(272.9,571.95) scale(0.9000,1)" x="-24.3" y="0" font-size="9.9" fill="#262626" stroke="#262626" stroke-width="0.12" >0.001</text>
<line x1="278.2" y1="589.47" x2="280.8" y2="589.47" stroke="#050505" stroke-width="1.0" />
<line x1="278.2" y1="584.25" x2="280.8" y2="584.25" stroke="#050505" stroke-width="1.0" />
<line x1="278.2" y1="580.55" x2="280.8" y2="580.55" stroke="#050505" stroke-width="1.0" />
<line x1="278.2" y1="577.68" x2="280.8" y2="577.68" stroke="#050505" stroke-width="1.0" />
<line x1="278.2" y1="575.33" x2="280.8" y2="575.33" stroke="#050505" stroke-width="1.0" />
<line x1="278.2" y1="573.34" x2="280.8" y2="573.34" stroke="#050505" stroke-width="1.0" />
<line x1="278.2" y1="571.62" x2="280.8" y2="571.62" stroke="#050505" stroke-width="1.0" />
<line x1="278.2" y1="570.11" x2="280.8" y2="570.11" stroke="#050505" stroke-width="1.0" />
<line x1="278.2" y1="559.82" x2="280.8" y2="559.82" stroke="#050505" stroke-width="1.0" />
<line x1="278.2" y1="554.6" x2="280.8" y2="554.6" stroke="#050505" stroke-width="1.0" />
<line x1="278.2" y1="550.9" x2="280.8" y2="550.9" stroke="#050505" stroke-width="1.0" />
<line x1="278.2" y1="548.03" x2="280.8" y2="548.03" stroke="#050505" stroke-width="1.0" />
<line x1="278.2" y1="545.68" x2="280.8" y2="545.68" stroke="#050505" stroke-width="1.0" />
<line x1="278.2" y1="543.69" x2="280.8" y2="543.69" stroke="#050505" stroke-width="1.0" />
<line x1="278.2" y1="541.97" x2="280.8" y2="541.97" stroke="#050505" stroke-width="1.0" />
<line x1="278.2" y1="540.46" x2="280.8" y2="540.46" stroke="#050505" stroke-width="1.0" />
<line x1="278.2" y1="530.17" x2="280.8" y2="530.17" stroke="#050505" stroke-width="1.0" />
<line x1="278.2" y1="524.95" x2="280.8" y2="524.95" stroke="#050505" stroke-width="1.0" />
<line x1="278.2" y1="521.25" x2="280.8" y2="521.25" stroke="#050505" stroke-width="1.0" />
<line x1="278.2" y1="518.38" x2="280.8" y2="518.38" stroke="#050505" stroke-width="1.0" />
<line x1="278.2" y1="516.03" x2="280.8" y2="516.03" stroke="#050505" stroke-width="1.0" />
<line x1="278.2" y1="514.04" x2="280.8" y2="514.04" stroke="#050505" stroke-width="1.0" />
<line x1="278.2" y1="512.32" x2="280.8" y2="512.32" stroke="#050505" stroke-width="1.0" />
<line x1="278.2" y1="510.81" x2="280.8" y2="510.81" stroke="#050505" stroke-width="1.0" />
<line x1="278.2" y1="500.52" x2="280.8" y2="500.52" stroke="#050505" stroke-width="1.0" />
<line x1="278.2" y1="495.3" x2="280.8" y2="495.3" stroke="#050505" stroke-width="1.0" />
<line x1="278.2" y1="491.6" x2="280.8" y2="491.6" stroke="#050505" stroke-width="1.0" />
<line x1="278.2" y1="488.73" x2="280.8" y2="488.73" stroke="#050505" stroke-width="1.0" />
<line x1="278.2" y1="486.38" x2="280.8" y2="486.38" stroke="#050505" stroke-width="1.0" />
<line x1="278.2" y1="484.39" x2="280.8" y2="484.39" stroke="#050505" stroke-width="1.0" />
<line x1="278.2" y1="482.67" x2="280.8" y2="482.67" stroke="#050505" stroke-width="1.0" />
<line x1="278.2" y1="481.16" x2="280.8" y2="481.16" stroke="#050505" stroke-width="1.0" />
<line x1="278.2" y1="470.87" x2="280.8" y2="470.87" stroke="#050505" stroke-width="1.0" />
<line x1="278.2" y1="465.65" x2="280.8" y2="465.65" stroke="#050505" stroke-width="1.0" />
<line x1="278.2" y1="461.95" x2="280.8" y2="461.95" stroke="#050505" stroke-width="1.0" />
<line x1="278.2" y1="459.08" x2="280.8" y2="459.08" stroke="#050505" stroke-width="1.0" />
<line x1="278.2" y1="456.73" x2="280.8" y2="456.73" stroke="#050505" stroke-width="1.0" />
<line x1="278.2" y1="454.74" x2="280.8" y2="454.74" stroke="#050505" stroke-width="1.0" />
<line x1="278.2" y1="453.02" x2="280.8" y2="453.02" stroke="#050505" stroke-width="1.0" />
<line x1="278.2" y1="451.51" x2="280.8" y2="451.51" stroke="#050505" stroke-width="1.0" />
<line x1="320.8" y1="589.9" x2="320.8" y2="593.4" stroke="#050505" stroke-width="1.2" />
<line x1="380.6" y1="589.9" x2="380.6" y2="593.4" stroke="#050505" stroke-width="1.2" />
<line x1="311.9" y1="468.1" x2="330.8" y2="468.1" stroke="#050505" stroke-width="1.3" />
<line x1="362.2" y1="491.9" x2="399.2" y2="491.9" stroke="#050505" stroke-width="1.4" />
<circle cx="320.8" cy="451.5" r="3.8" fill="#b8123a" stroke="#141414" stroke-width="1.1"/>
<polygon points="306.2,454.04 310.7,462.64 301.7,462.64" fill="#2f4777" stroke="#141414" stroke-width="1.1" stroke-linejoin="miter"/>
<polygon points="336.2,454.04 340.7,462.64 331.7,462.64" fill="#2f4777" stroke="#141414" stroke-width="1.1" stroke-linejoin="miter"/>
<circle cx="331.5" cy="458.5" r="3.8" fill="#b8123a" stroke="#141414" stroke-width="1.1"/>
<circle cx="326.9" cy="461.5" r="3.8" fill="#b8123a" stroke="#141414" stroke-width="1.1"/>
<rect x="307.6" y="455.2" width="7.2" height="7.2" fill="#6cb245" stroke="#141414" stroke-width="1.1"/>
<rect x="312.9" y="452.4" width="7.2" height="7.2" fill="#6cb245" stroke="#141414" stroke-width="1.1"/>
<rect x="315.2" y="459" width="7.2" height="7.2" fill="#6cb245" stroke="#141414" stroke-width="1.1"/>
<rect x="322.2" y="452.4" width="7.2" height="7.2" fill="#6cb245" stroke="#141414" stroke-width="1.1"/>
<polygon points="307.7,467.14 312.2,475.74 303.2,475.74" fill="#2f4777" stroke="#141414" stroke-width="1.1" stroke-linejoin="miter"/>
<polygon points="312.3,474.5 317,479.2 312.3,483.9 307.6,479.2" fill="#e3a12f" stroke="#141414" stroke-width="1.1"/>
<polygon points="316.9,471.5 321.6,476.2 316.9,480.9 312.2,476.2" fill="#e3a12f" stroke="#141414" stroke-width="1.1"/>
<polygon points="325.4,471.8 330.1,476.5 325.4,481.2 320.7,476.5" fill="#e3a12f" stroke="#141414" stroke-width="1.1"/>
<polygon points="333.5,471.1 338.2,475.8 333.5,480.5 328.8,475.8" fill="#e3a12f" stroke="#141414" stroke-width="1.1"/>
<polygon points="320.8,481.9 325.5,486.6 320.8,491.3 316.1,486.6" fill="#e3a12f" stroke="#141414" stroke-width="1.1"/>
<polygon points="329.2,481.44 333.7,490.04 324.7,490.04" fill="#2f4777" stroke="#141414" stroke-width="1.1" stroke-linejoin="miter"/>
<rect x="361" y="471.5" width="7.2" height="7.2" fill="#6cb245" stroke="#141414" stroke-width="1.1"/>
<rect x="369.1" y="473.2" width="7.2" height="7.2" fill="#6cb245" stroke="#141414" stroke-width="1.1"/>
<rect x="377" y="476.6" width="7.2" height="7.2" fill="#6cb245" stroke="#141414" stroke-width="1.1"/>
<rect x="384.9" y="470.9" width="7.2" height="7.2" fill="#6cb245" stroke="#141414" stroke-width="1.1"/>
<rect x="392.7" y="469.2" width="7.2" height="7.2" fill="#6cb245" stroke="#141414" stroke-width="1.1"/>
<circle cx="380.4" cy="498.1" r="3.8" fill="#b8123a" stroke="#141414" stroke-width="1.1"/>
<circle cx="372.3" cy="505.8" r="3.8" fill="#b8123a" stroke="#141414" stroke-width="1.1"/>
<circle cx="389.1" cy="502.4" r="3.8" fill="#b8123a" stroke="#141414" stroke-width="1.1"/>
<circle cx="380.4" cy="508" r="3.8" fill="#b8123a" stroke="#141414" stroke-width="1.1"/>
<polygon points="380.4,520.4 385.1,525.1 380.4,529.8 375.7,525.1" fill="#e3a12f" stroke="#141414" stroke-width="1.1"/>
<polygon points="376.3,525.1 381,529.8 376.3,534.5 371.6,529.8" fill="#e3a12f" stroke="#141414" stroke-width="1.1"/>
<polygon points="385.1,529.8 389.8,534.5 385.1,539.2 380.4,534.5" fill="#e3a12f" stroke="#141414" stroke-width="1.1"/>
<polygon points="364,540.14 368.5,548.74 359.5,548.74" fill="#2f4777" stroke="#141414" stroke-width="1.1" stroke-linejoin="miter"/>
<polygon points="372.3,547.54 376.8,556.14 367.8,556.14" fill="#2f4777" stroke="#141414" stroke-width="1.1" stroke-linejoin="miter"/>
<polygon points="376.3,548.24 380.8,556.84 371.8,556.84" fill="#2f4777" stroke="#141414" stroke-width="1.1" stroke-linejoin="miter"/>
<polygon points="385.1,544.14 389.6,552.74 380.6,552.74" fill="#2f4777" stroke="#141414" stroke-width="1.1" stroke-linejoin="miter"/>
<polygon points="393.8,539.44 398.3,548.04 389.3,548.04" fill="#2f4777" stroke="#141414" stroke-width="1.1" stroke-linejoin="miter"/>
<polygon points="385.1,556.1 389.8,560.8 385.1,565.5 380.4,560.8" fill="#e3a12f" stroke="#141414" stroke-width="1.1"/>
<polygon points="380.6,573.6 385.3,578.3 380.6,583 375.9,578.3" fill="#e3a12f" stroke="#141414" stroke-width="1.1"/>
<polyline points="321.2,450.2 321.2,445.1 382.2,445.1 382.2,449.6" fill="none" stroke="#050505" stroke-width="1.5" />
<circle cx="346.2" cy="440.9" r="1.2" fill="#151515"/>
<circle cx="350.0" cy="440.9" r="1.2" fill="#151515"/>
<circle cx="353.8" cy="440.9" r="1.2" fill="#151515"/>
<circle cx="357.6" cy="440.9" r="1.2" fill="#151515"/>
<text transform="translate(243.8,569.4) rotate(-90) scale(0.7643,1)" x="-0.4" y="0" font-size="11.3" fill="#262626" stroke="#262626" stroke-width="0.2" >%CLL cells/ nucleated cells</text>
<text transform="translate(324.95,602.05) rotate(-45) scale(0.9956,1)" x="-32.99" y="0" font-size="9.4" fill="#262626" stroke="#262626" stroke-width="0.12" >H2/CD3</text>
<text transform="translate(384.75,601.55) rotate(-45) scale(0.9741,1)" x="-45.03" y="0" font-size="9.4" fill="#262626" stroke="#262626" stroke-width="0.12" >CD19/CD3</text>
</svg></div></body></html>
